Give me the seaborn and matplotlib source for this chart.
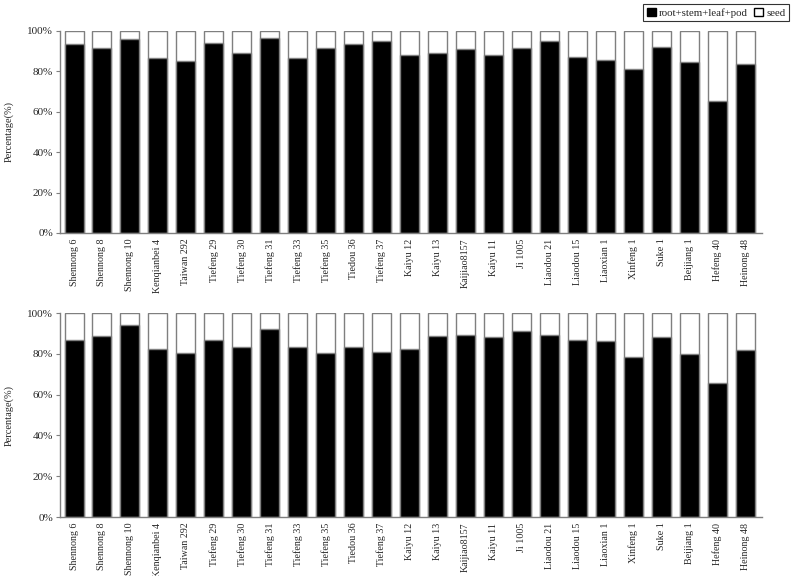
import numpy as np
import pandas as pd
import matplotlib
matplotlib.use("Agg")
import matplotlib.pyplot as plt
import seaborn as sns
from matplotlib.patches import Patch
from matplotlib.ticker import PercentFormatter

varieties = ["Shennong 6", "Shennong 8", "Shennong 10", "Kenqianbei 4", "Taiwan 292",
             "Tiefeng 29", "Tiefeng 30", "Tiefeng 31", "Tiefeng 33", "Tiefeng 35",
             "Tiedou 36", "Tiefeng 37", "Kaiyu 12", "Kaiyu 13", "Kaijiao8157",
             "Kaiyu 11", "Ji 1005", "Liaodou 21", "Liaodou 15", "Liaoxian 1",
             "Xinfeng 1", "Suke 1", "Beijiang 1", "Hefeng 40", "Heinong 48"]

# root+stem+leaf+pod share (%), rest is seed
top_root = [93.4, 91.6, 96.0, 86.5, 85.1, 93.9, 89.0, 96.5, 86.5, 91.6, 93.4, 94.9,
            88.1, 89.0, 91.1, 88.1, 91.6, 94.9, 87.1, 85.6, 80.9, 92.1, 84.5, 65.3, 83.4]
bottom_root = [86.7, 88.6, 94.3, 82.3, 80.6, 86.7, 83.6, 92.4, 83.6, 80.2, 83.6, 81.0,
               82.5, 88.6, 89.1, 88.2, 91.2, 89.1, 87.0, 86.1, 78.5, 88.2, 79.8, 65.5, 82.1]

sns.set_style("ticks")
plt.rcParams["font.family"] = ["Liberation Serif", "DejaVu Serif"]

fig = plt.figure(figsize=(7.94, 5.76), dpi=100)
ax1 = fig.add_axes([0.0756, 0.5955, 0.884, 0.351])
ax2 = fig.add_axes([0.0756, 0.1024, 0.884, 0.354])

edge = "#7f7f7f"
for ax, root in [(ax1, top_root), (ax2, bottom_root)]:
    df = pd.DataFrame({"variety": varieties, "root": root})
    df["total"] = 100.0
    sns.barplot(data=df, x="variety", y="total", color="white", edgecolor=edge,
                linewidth=1, width=0.68, ax=ax, saturation=1)
    sns.barplot(data=df, x="variety", y="root", color="black", edgecolor=edge,
                linewidth=1, width=0.68, ax=ax, saturation=1)
    ax.set_ylim(0, 100)
    ax.set_xlim(-0.5, len(varieties) - 0.4)
    ax.set_yticks([0, 20, 40, 60, 80, 100])
    ax.yaxis.set_major_formatter(PercentFormatter(decimals=0))
    ax.set_xlabel("")
    ax.set_ylabel("Percentage(%)", fontsize=7.5)
    ax.yaxis.set_label_coords(-0.066, 0.5)
    ax.tick_params(axis="y", labelsize=8, length=3, color=edge, pad=2)
    ax.tick_params(axis="x", labelsize=7.2, length=0, rotation=90, pad=4)
    for s in ["top", "right"]:
        ax.spines[s].set_visible(False)
    for s in ["left", "bottom"]:
        ax.spines[s].set_color(edge)
        ax.spines[s].set_linewidth(1)

handles = [Patch(facecolor="black", edgecolor="black", label="root+stem+leaf+pod"),
           Patch(facecolor="white", edgecolor="black", label="seed")]
leg = fig.legend(handles=handles, loc="upper right", bbox_to_anchor=(0.997, 0.997),
                 ncol=2, fontsize=7.8, frameon=True, fancybox=False, edgecolor="black",
                 handlelength=0.8, handleheight=0.8, handletextpad=0.3, columnspacing=0.6,
                 borderpad=0.35, borderaxespad=0.2)
leg.get_frame().set_linewidth(0.8)

fig.savefig("out.png", dpi=100)
